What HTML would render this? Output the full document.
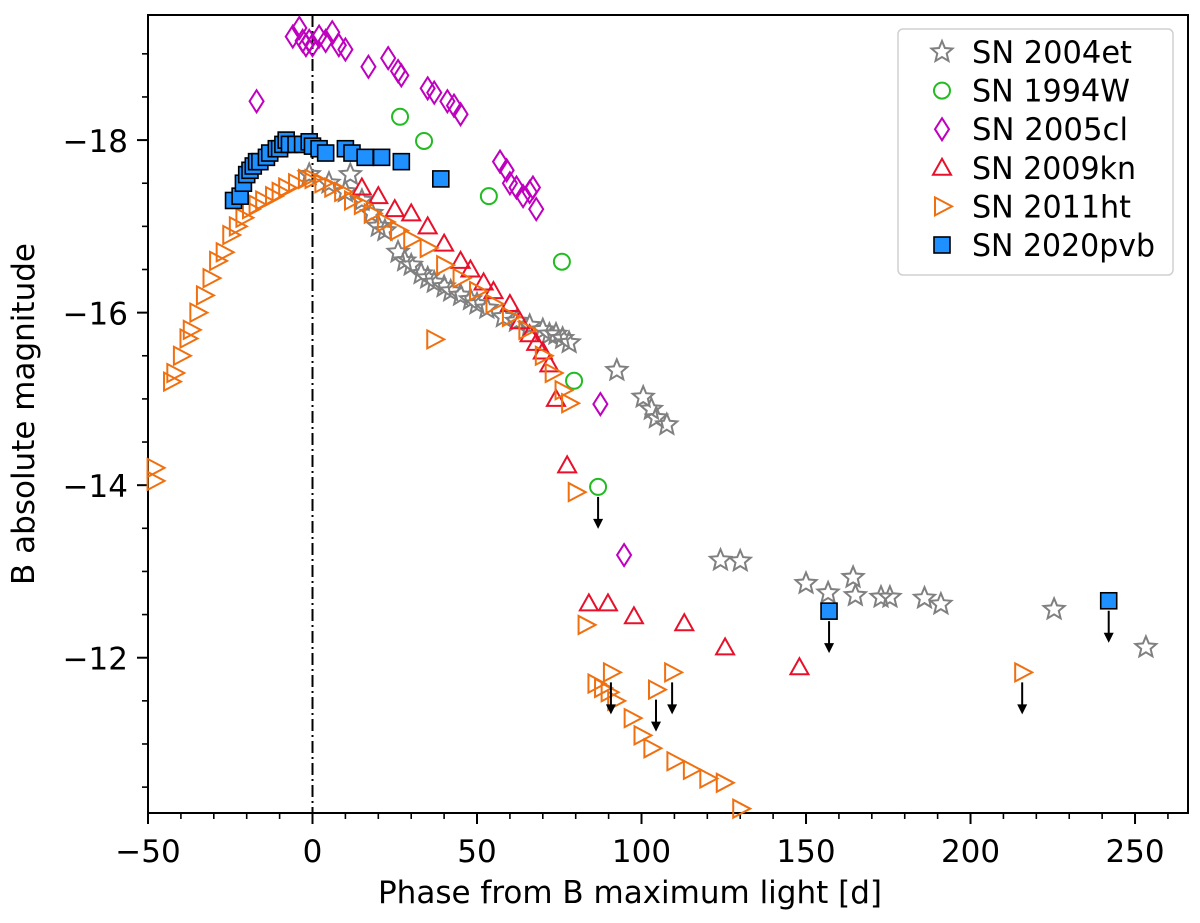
<!DOCTYPE html>
<html><head><meta charset="utf-8"><style>
body{margin:0;background:#fff}
svg text{font-family:"DejaVu Sans","Liberation Sans",sans-serif;fill:#000}
</style></head><body>
<svg id="chart" width="1200" height="918" viewBox="0 0 1200 918" xmlns="http://www.w3.org/2000/svg">
<g id="axes"></g>
<g id="marks"></g>
<g id="legend"></g>
</svg>
<script>
const X0=148,X1=1188,Y0=15,Y1=813;
const xMin=-50,xMax=266.1,yTop=-19.45,yBot=-10.2;
const xTicks=[-50,0,50,100,150,200,250];
const yTicks=[-18,-16,-14,-12];
const xs04=[-1,5,10,11.5,15,18,20,22,26,28,30,33,35,37,40,42,45,48,50,53,58,62,66,70,72,74,76,78,92.5,100.5,103,104.5,107.7,124,130,150,156.7,164.3,165,172.8,175.5,186,191,225.4,253.3];
const ys04=[-17.6,-17.5,-17.4,-17.6,-17.3,-17.15,-17.0,-16.95,-16.7,-16.6,-16.55,-16.45,-16.4,-16.35,-16.3,-16.25,-16.2,-16.15,-16.1,-16.05,-15.95,-15.9,-15.85,-15.8,-15.75,-15.75,-15.7,-15.65,-15.33,-15.02,-14.88,-14.78,-14.7,-13.13,-13.12,-12.86,-12.75,-12.93,-12.72,-12.7,-12.7,-12.69,-12.62,-12.56,-12.12];
const xs94=[26.6,33.9,53.6,75.8,79.5,86.8];
const ys94=[-18.27,-17.99,-17.35,-16.59,-15.21,-13.98];
const lim94=[false,false,false,false,false,true];
const xs05=[-17,-6,-4,-3,-2,-1,0,2,4,6,8,10,17,23,26,27,35,37,41,43,45,57,59,60,62,64,66,67,68,87.5,94.7];
const ys05=[-18.45,-19.2,-19.3,-19.15,-19.1,-19.15,-19.1,-19.2,-19.15,-19.25,-19.1,-19.05,-18.85,-18.95,-18.8,-18.75,-18.6,-18.55,-18.45,-18.4,-18.3,-17.75,-17.65,-17.5,-17.45,-17.35,-17.4,-17.45,-17.2,-14.94,-13.19];
const xs09=[15,20,25,30,35,40,45,48,52,55,60,63,66,68,70,72,74,77.4,84,89.8,97.7,113,125.4,148];
const ys09=[-17.45,-17.35,-17.2,-17.15,-17.0,-16.8,-16.6,-16.5,-16.35,-16.25,-16.1,-15.9,-15.75,-15.65,-15.55,-15.4,-15.0,-14.23,-12.63,-12.63,-12.48,-12.4,-12.12,-11.89];
const xs11=[-48,-48,-43,-42,-40,-38,-37,-35,-33,-31,-29,-27,-25,-23,-21,-19,-17,-15,-12,-10,-8,-5,-2,0,3,6,9,12,15,18,22,26,30,35,40,45,50,55,60,65,70,73,76,78,37,80,83,86,88,90,92,97,100,103,110,115,120,125,130,90.7,104.4,109.3,215.7];
const ys11=[-14.2,-14.05,-15.2,-15.3,-15.5,-15.7,-15.8,-16.0,-16.2,-16.4,-16.6,-16.7,-16.9,-17.0,-17.1,-17.2,-17.25,-17.3,-17.35,-17.4,-17.45,-17.5,-17.55,-17.55,-17.5,-17.45,-17.4,-17.3,-17.25,-17.15,-17.05,-16.95,-16.85,-16.75,-16.55,-16.4,-16.25,-16.1,-15.95,-15.8,-15.5,-15.3,-15.1,-14.95,-15.69,-13.92,-12.38,-11.7,-11.65,-11.6,-11.5,-11.3,-11.1,-10.95,-10.8,-10.7,-10.6,-10.55,-10.25,-11.83,-11.63,-11.83,-11.83];
const lim11x=[90.7,104.4,109.3,215.7];
const lim11y=[-11.83,-11.63,-11.83,-11.83];
const xs20=[-24,-22,-21,-20,-19,-18,-17,-16,-14,-13,-11,-10,-9,-8,-7,-5,-3,-1,0,2,4,10,12,16,21,27,39,157,242];
const ys20=[-17.3,-17.35,-17.5,-17.6,-17.65,-17.7,-17.75,-17.75,-17.8,-17.85,-17.9,-17.9,-17.95,-18,-17.95,-17.95,-17.95,-17.98,-17.93,-17.9,-17.85,-17.9,-17.85,-17.8,-17.8,-17.75,-17.55,-12.54,-12.66];
const lim20=[157,242];
const legendLabels=["SN 2004et","SN 1994W","SN 2005cl","SN 2009kn","SN 2011ht","SN 2020pvb"];

const sx=v=>X0+(v-xMin)/(xMax-xMin)*(X1-X0);
const sy=v=>Y0+(v-yTop)/(yBot-yTop)*(Y1-Y0);
const NS="http://www.w3.org/2000/svg";
function mk(tag,attrs,parent){const e=document.createElementNS(NS,tag);for(const k in attrs)e.setAttribute(k,attrs[k]);parent.appendChild(e);return e;}
const axes=document.getElementById('axes'),marks=document.getElementById('marks'),leg=document.getElementById('legend');

for(let v=-50;v<=260;v+=10){const major=v%50===0;const t=mk('line',{x1:sx(v),x2:sx(v),y1:Y1,y2:Y1+(major?11:6),stroke:'#000','stroke-width':major?2:1.6},axes);

}
xTicks.forEach(v=>{const t=mk('text',{x:sx(v),y:Y1+49,'font-size':31,'text-anchor':'middle'},axes);t.textContent=(v<0?'\u2212':'')+Math.abs(v);

});
for(let v=-19;v<=-10.5;v+=0.5){const major=Math.abs(v%2)===0;const t=mk('line',{x1:X0-(major?11:6),x2:X0,y1:sy(v),y2:sy(v),stroke:'#000','stroke-width':major?2:1.6},axes);

}
yTicks.forEach(v=>{const t=mk('text',{x:X0-20,y:sy(v)+12,'font-size':31,'text-anchor':'end'},axes);t.textContent='\u2212'+Math.abs(v);

});
let xt=mk('text',{x:(X0+X1)/2-38,y:903,'font-size':31,'text-anchor':'middle'},axes);xt.textContent='Phase from B maximum light [d]';


let yt=mk('text',{x:0,y:0,'font-size':31,'text-anchor':'middle',transform:`translate(34,${(Y0+Y1)/2}) rotate(-90)`},axes);yt.textContent='B absolute magnitude';


let vl=mk('line',{x1:sx(0),x2:sx(0),y1:Y0,y2:Y1,stroke:'#000','stroke-width':2,'stroke-dasharray':'12,4,2,4'},axes);



function star(cx,cy,r){let p=[];for(let i=0;i<10;i++){const a=-Math.PI/2+i*Math.PI/5;const rr=i%2?r*0.45:r;p.push((cx+rr*Math.cos(a)).toFixed(1)+','+(cy+rr*Math.sin(a)).toFixed(1));}return p.join(' ');}
function marker(type,cx,cy,parent){let e;
if(type==='star')e=mk('polygon',{points:star(cx,cy,11),fill:'none',stroke:'#808080','stroke-width':2},parent);
else if(type==='circle')e=mk('circle',{cx,cy,r:8,fill:'none',stroke:'#22bb22','stroke-width':2},parent);
else if(type==='diamond')e=mk('polygon',{points:`${cx},${cy-11} ${cx+7},${cy} ${cx},${cy+11} ${cx-7},${cy}`,fill:'none',stroke:'#bf00bf','stroke-width':2},parent);
else if(type==='tri')e=mk('polygon',{points:`${cx},${cy-9} ${cx+9},${cy+7} ${cx-9},${cy+7}`,fill:'none',stroke:'#e8102a','stroke-width':2},parent);
else if(type==='rtri')e=mk('polygon',{points:`${cx+10},${cy} ${cx-7},${cy-9} ${cx-7},${cy+9}`,fill:'none',stroke:'#f07010','stroke-width':2},parent);
else e=mk('rect',{x:cx-8,y:cy-8,width:16,height:16,fill:'#1e90ff',stroke:'#000','stroke-width':1.6},parent);
return e;}
function arrow(x,y){const cx=sx(x),cy=sy(y)+10;const l=mk('line',{x1:cx,x2:cx,y1:cy,y2:cy+24,stroke:'#000','stroke-width':2},marks);


const h=mk('polygon',{points:`${cx-5},${cy+22} ${cx+5},${cy+22} ${cx},${cy+32}`,fill:'#000'},marks);

}
function series(xsA,ysA,type,name){xsA.forEach((x,i)=>{const e=marker(type,sx(x),sy(ysA[i]),marks);

});}
series(xs04,ys04,'star','sn2004et-point');
series(xs94,ys94,'circle','sn1994w-point');
xs94.forEach((x,i)=>{if(lim94[i])arrow(x,ys94[i]);});
series(xs05,ys05,'diamond','sn2005cl-point');
series(xs09,ys09,'tri','sn2009kn-point');
series(xs11,ys11,'rtri','sn2011ht-point');
lim11x.forEach((x,i)=>arrow(x,lim11y[i]));
series(xs20,ys20,'square','sn2020pvb-point');
xs20.forEach((x,i)=>{if(lim20.includes(x))arrow(x,ys20[i]);});

let fr=mk('rect',{x:X0,y:Y0,width:X1-X0,height:Y1-Y0,fill:'none',stroke:'#000','stroke-width':2},axes);



let lb=mk('rect',{x:898,y:29,width:275,height:246,rx:5,fill:'#fff','fill-opacity':0.8,stroke:'#d0d0d0','stroke-width':1.5},leg);


const types=['star','circle','diamond','tri','rtri','square'];
const legW=[160,158,156,164,159,183];
legendLabels.forEach((s,i)=>{const y=52+i*38.6;const m=marker(types[i],942,y,leg);


const t=mk('text',{x:972,y:y+11,'font-size':31,textLength:legW[i],lengthAdjust:'spacingAndGlyphs'},leg);t.textContent=s;

});
</script>
</body></html>
